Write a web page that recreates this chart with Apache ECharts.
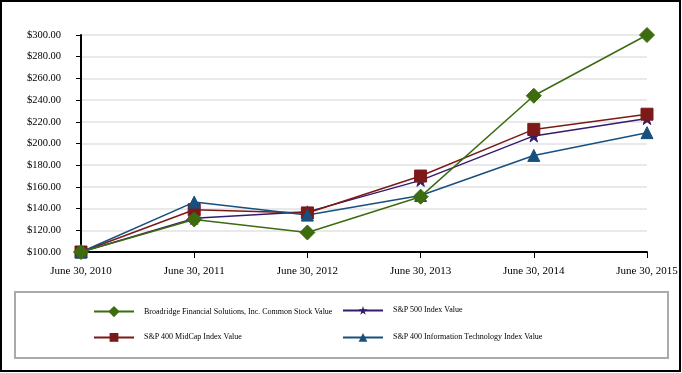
<!DOCTYPE html>
<html><head><meta charset="utf-8">
<script src="https://cdn.jsdelivr.net/npm/echarts@6/dist/echarts.min.js"></script>
<style>html,body{margin:0;padding:0;background:#fff}#c{width:682px;height:373px}</style>
</head><body><div id="c"></div>
<script>
const categories = ["June 30, 2010","June 30, 2011","June 30, 2012","June 30, 2013","June 30, 2014","June 30, 2015"];
const broadridge = [100, 130, 118, 151, 244, 300];
const sp500 = [100, 131, 137, 166, 207, 223];
const midcap = [100, 139, 136, 170, 213, 227];
const infotech = [100, 146, 134, 152, 189, 210];
const names = ["Broadridge Financial Solutions, Inc. Common Stock Value","S&P 500 Index Value","S&P 400 MidCap Index Value","S&P 400 Information Technology Index Value"];
const yTicks = [100,120,140,160,180,200,220,240,260,280,300];

const star = 'path://M50,0 L61.8,36.2 L100,36.2 L69.1,58.6 L80.9,95.1 L50,72.6 L19.1,95.1 L30.9,58.6 L0,36.2 L38.2,36.2 Z';
const font = '"Liberation Serif","Times New Roman",serif';
const colors = ['#3D6B10','#341B6E','#7B1A18','#17507E'];
const syms = ['diamond', star, 'rect', 'triangle'];
const sizes = [15, 12, 12, 12];
const datas = [broadridge, sp500, midcap, infotech];

const chart = echarts.init(document.getElementById('c'), null, {renderer:'canvas'});
const legendPos = [[93,306],[342,306],[93,333],[342,333]];
chart.setOption({
  animation:false,
  backgroundColor:'#fff',
  grid:{left:81,right:35,top:35,bottom:121},
  xAxis:{type:'category',data:categories,boundaryGap:false,
    axisLine:{lineStyle:{color:'#000',width:2}},
    axisTick:{show:true,length:6,lineStyle:{color:'#000',width:1}},
    axisLabel:{color:'#000',fontFamily:font,fontSize:11,margin:14,interval:0},
    splitLine:{show:false}},
  yAxis:{type:'value',min:yTicks[0],max:yTicks[yTicks.length-1],interval:20,
    axisLine:{show:true,lineStyle:{color:'#000',width:2}},
    axisTick:{show:true,length:5,lineStyle:{color:'#000'}},
    axisLabel:{color:'#000',fontFamily:font,fontSize:10.5,margin:20,
      formatter:(v)=>'$'+v.toFixed(2)},
    splitLine:{show:true,lineStyle:{color:'#e2e2e2',width:1.5}}},
  legend: names.map((n,i)=>({data:[n],left:legendPos[i][0],top:legendPos[i][1],
    itemWidth:40,itemHeight:i===0?14:11,itemGap:10,padding:0,
    textStyle:{fontFamily:font,fontSize:8,color:'#000',padding:[0,0,0,5]}})),
  graphic:[
    {type:'rect',shape:{x:1,y:1,width:679,height:370},style:{fill:'none',stroke:'#000',lineWidth:2},z:100},
    {type:'rect',shape:{x:15,y:292,width:653,height:66},style:{fill:'none',stroke:'#aaa',lineWidth:2},z:100}
  ],
  series: [1,2,3,0].map(i=>({
    name:names[i],type:'line',data:datas[i],
    symbol:syms[i],symbolSize:sizes[i],showSymbol:true,
    z: i===0?5:2,
    lineStyle:{color:colors[i],width:1.5},
    itemStyle:{color:colors[i],borderColor:colors[i]}
  }))
});
</script></body></html>
